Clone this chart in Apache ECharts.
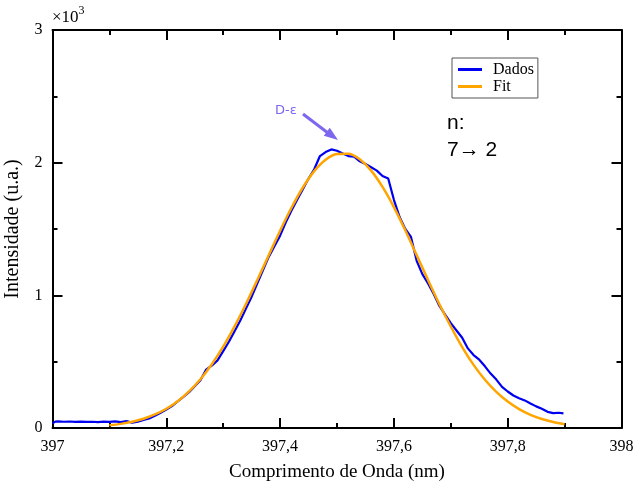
<!DOCTYPE html>
<html>
<head>
<meta charset="utf-8">
<script src="https://cdn.jsdelivr.net/npm/echarts@6/dist/echarts.min.js"></script>
<style>html,body{margin:0;padding:0;background:#fff;}#c{width:637px;height:482px;}</style>
</head>
<body>
<div id="c"></div>
<script>
// Wavelength (nm) and intensity (counts)
const dadosX = [397.000,397.005,397.010,397.020,397.030,397.040,397.050,397.060,397.070,397.080,397.090,397.100,397.110,397.120,397.130,397.140,397.150,397.160,397.170,397.180,397.190,397.200,397.210,397.220,397.230,397.240,397.250,397.260,397.270,397.280,397.290,397.300,397.310,397.320,397.330,397.340,397.350,397.360,397.370,397.380,397.390,397.400,397.410,397.420,397.430,397.440,397.450,397.460,397.470,397.480,397.490,397.500,397.510,397.520,397.530,397.540,397.550,397.560,397.570,397.580,397.590,397.600,397.610,397.620,397.630,397.640,397.650,397.660,397.670,397.680,397.690,397.700,397.710,397.720,397.730,397.740,397.750,397.760,397.770,397.780,397.790,397.800,397.810,397.820,397.830,397.840,397.850,397.860,397.870,397.880,397.890,397.898];
const dadosY = [35,48,50,47,49,46,48,46,47,45,48,46,50,44,52,40,48,60,72,92,115,140,165,200,235,270,315,360,440,470,510,580,650,730,810,900,990,1090,1190,1290,1370,1450,1550,1640,1720,1800,1880,1950,2050,2080,2100,2090,2070,2050,2045,2010,1990,1965,1940,1900,1880,1720,1590,1500,1440,1260,1160,1090,1010,920,855,790,735,680,600,550,515,465,410,365,310,275,245,225,208,185,163,145,122,112,115,110];
const fitX = [397.10,397.12,397.14,397.16,397.18,397.20,397.22,397.24,397.26,397.28,397.30,397.32,397.34,397.36,397.38,397.40,397.42,397.44,397.46,397.48,397.50,397.52,397.54,397.56,397.58,397.60,397.62,397.64,397.66,397.68,397.70,397.72,397.74,397.76,397.78,397.80,397.82,397.84,397.86,397.88,397.90];
const fitY = [20,31,47,70,102,145,202,276,368,481,613,766,935,1116,1302,1487,1660,1813,1936,2022,2065,2068,2025,1940,1817,1665,1490,1303,1115,933,765,610,476,364,272,199,142,99,68,45,29];
const xTicks = ["397","397,2","397,4","397,6","397,8","398"];
const yTicks = ["0","1","2","3"];

const zip = (a, b) => a.map((v, i) => [v, b[i]]);
const serif = '"Liberation Serif", "Times New Roman", serif';

const chart = echarts.init(document.getElementById('c'), null, {renderer: 'canvas'});
const frame = {show: true, onZero: false, lineStyle: {color: '#000', width: 2}};
const tick = {show: true, inside: true, length: 10, lineStyle: {color: '#000', width: 2}};
const minor = {show: true, splitNumber: 2, length: 5, lineStyle: {color: '#000', width: 2}};
chart.setOption({
  animation: false,
  backgroundColor: '#fff',
  grid: {left: 52.5, right: 15.5, top: 30, bottom: 54, containLabel: false, outerBoundsMode: 'none'},
  xAxis: [
    {type: 'value', min: 397, max: 398, interval: 0.2, position: 'bottom',
     axisLine: frame, axisTick: tick, minorTick: minor, splitLine: {show: false},
     axisLabel: {color: '#000', fontFamily: serif, fontSize: 16, margin: 11,
       formatter: v => xTicks[Math.round((v - 397) / 0.2)]},
     name: 'Comprimento de Onda (nm)', nameLocation: 'middle', nameGap: 35,
     nameTextStyle: {color: '#000', fontFamily: serif, fontSize: 19}},
    {type: 'value', min: 397, max: 398, interval: 0.2, position: 'top',
     axisLine: frame, axisTick: tick, minorTick: minor, splitLine: {show: false},
     axisLabel: {show: false}}
  ],
  yAxis: [
    {type: 'value', min: 0, max: 3000, interval: 1000, position: 'left',
     axisLine: frame, axisTick: tick, minorTick: minor, splitLine: {show: false},
     axisLabel: {color: '#000', fontFamily: serif, fontSize: 16, margin: 10,
       formatter: v => yTicks[Math.round(v / 1000)]},
     name: 'Intensidade (u.a.)', nameLocation: 'middle', nameGap: 30, nameRotate: 90,
     nameTextStyle: {color: '#000', fontFamily: serif, fontSize: 20}},
    {type: 'value', min: 0, max: 3000, interval: 1000, position: 'right',
     axisLine: frame, axisTick: tick, minorTick: minor, splitLine: {show: false},
     axisLabel: {show: false}}
  ],
  legend: {
    show: true, orient: 'vertical', left: 452, top: 58,
    padding: [3, 4, 3, 6], itemGap: 0, itemWidth: 24, itemHeight: 3,
    borderColor: '#555', borderWidth: 1, borderRadius: 0,
    textStyle: {color: '#000', fontFamily: serif, fontSize: 16, lineHeight: 17, padding: [0, 0, 0, 6]},
    data: [{name: 'Dados', icon: 'rect'}, {name: 'Fit', icon: 'rect'}]
  },
  series: [
    {name: 'Dados', type: 'line', data: zip(dadosX, dadosY), showSymbol: false,
     lineStyle: {color: '#0000f0', width: 2.2}, itemStyle: {color: '#0000f0'}, z: 2},
    {name: 'Fit', type: 'line', data: zip(fitX, fitY), showSymbol: false, smooth: 0.3,
     lineStyle: {color: '#ffa500', width: 2.5}, itemStyle: {color: '#ffa500'}, z: 3}
  ],
  graphic: [
    {type: 'text', left: 52, top: 5, style: {
      text: '{a|×10}{b|3}', rich: {
        a: {fontFamily: serif, fontSize: 17, fill: '#000', verticalAlign: 'bottom'},
        b: {fontFamily: serif, fontSize: 12, fill: '#000', verticalAlign: 'top', padding: [0, 0, 9, 0]}
      }}},
    {type: 'text', left: 447, top: 113, style: {text: 'n:', fontFamily: '"Liberation Sans", sans-serif', fontSize: 21, fill: '#000'}},
    {type: 'text', left: 447, top: 140, style: {text: '7\u2192 2', fontFamily: '"Liberation Sans", sans-serif', fontSize: 21, fill: '#000'}},
    {type: 'text', left: 275, top: 104, style: {text: 'D-ε', fontFamily: '"DejaVu Sans", sans-serif', fontSize: 13, fill: '#7b68ee'}},
    {type: 'line', shape: {x1: 303, y1: 114, x2: 328, y2: 133}, style: {stroke: '#7b68ee', lineWidth: 3}},
    {type: 'polygon', shape: {points: [[338, 140], [323.8, 135.7], [329.8, 127.7]]}, style: {fill: '#7b68ee'}}
  ]
});
</script>
</body>
</html>
